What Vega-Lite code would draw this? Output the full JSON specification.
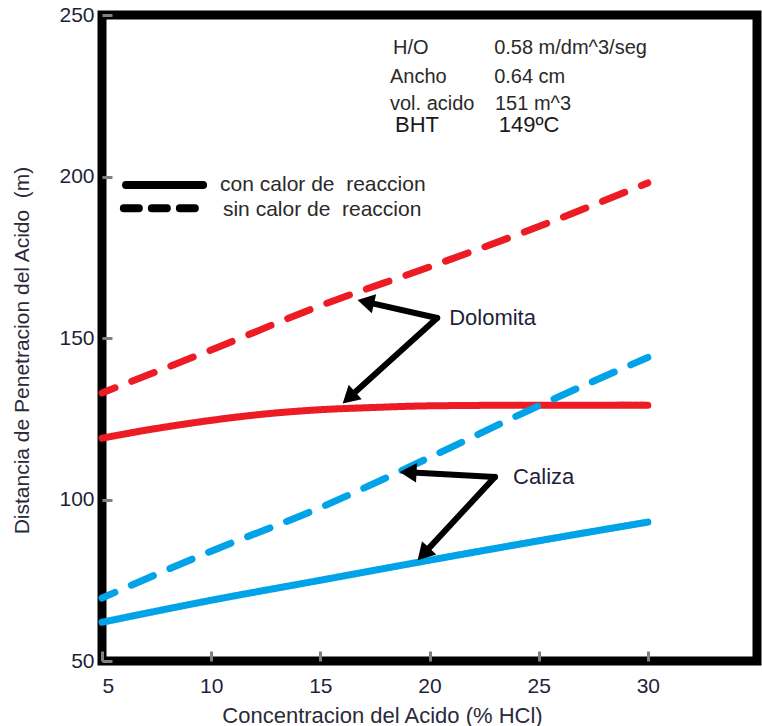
{
  "$schema": "https://vega.github.io/schema/vega-lite/v6.json",
  "width": 655,
  "height": 646,
  "autosize": {"type": "none"},
  "padding": {"left": 102, "top": 15, "right": 5, "bottom": 65},
  "background": "white",
  "config": {
    "view": {"stroke": "black", "strokeWidth": 9},
    "font": "Liberation Sans",
    "axis": {"grid": false, "domain": false, "labelFont": "Liberation Sans", "titleFont": "Liberation Sans", "labelColor": "#1f1f3a", "titleColor": "#2a2a3a", "titleFontWeight": "normal", "tickColor": "#808080", "tickWidth": 3}
  },
  "datasets": {
    "curves": [
      {"x": 5, "y": 133, "mineral": "Dolomita", "tipo": "sin"},
      {"x": 10, "y": 146.3, "mineral": "Dolomita", "tipo": "sin"},
      {"x": 15, "y": 160, "mineral": "Dolomita", "tipo": "sin"},
      {"x": 20, "y": 172, "mineral": "Dolomita", "tipo": "sin"},
      {"x": 25, "y": 184.5, "mineral": "Dolomita", "tipo": "sin"},
      {"x": 30, "y": 198, "mineral": "Dolomita", "tipo": "sin"},
      {"x": 5, "y": 119, "mineral": "Dolomita", "tipo": "con"},
      {"x": 7.5, "y": 122, "mineral": "Dolomita", "tipo": "con"},
      {"x": 10, "y": 124.5, "mineral": "Dolomita", "tipo": "con"},
      {"x": 12.5, "y": 126.5, "mineral": "Dolomita", "tipo": "con"},
      {"x": 15, "y": 127.8, "mineral": "Dolomita", "tipo": "con"},
      {"x": 17.5, "y": 128.5, "mineral": "Dolomita", "tipo": "con"},
      {"x": 20, "y": 129, "mineral": "Dolomita", "tipo": "con"},
      {"x": 25, "y": 129.2, "mineral": "Dolomita", "tipo": "con"},
      {"x": 30, "y": 129.2, "mineral": "Dolomita", "tipo": "con"},
      {"x": 5, "y": 69.5, "mineral": "Caliza", "tipo": "sin"},
      {"x": 10, "y": 84, "mineral": "Caliza", "tipo": "sin"},
      {"x": 15, "y": 97.5, "mineral": "Caliza", "tipo": "sin"},
      {"x": 20, "y": 113, "mineral": "Caliza", "tipo": "sin"},
      {"x": 25, "y": 129, "mineral": "Caliza", "tipo": "sin"},
      {"x": 30, "y": 144, "mineral": "Caliza", "tipo": "sin"},
      {"x": 5, "y": 62, "mineral": "Caliza", "tipo": "con"},
      {"x": 10, "y": 68.8, "mineral": "Caliza", "tipo": "con"},
      {"x": 15, "y": 75, "mineral": "Caliza", "tipo": "con"},
      {"x": 20, "y": 81.2, "mineral": "Caliza", "tipo": "con"},
      {"x": 25, "y": 87.2, "mineral": "Caliza", "tipo": "con"},
      {"x": 30, "y": 93, "mineral": "Caliza", "tipo": "con"}
    ],
    "legendLines": [
      {"x": 6.1, "y": 197.4, "tipo": "con"},
      {"x": 9.63, "y": 197.4, "tipo": "con"},
      {"x": 6.0, "y": 190.2, "tipo": "sin"},
      {"x": 9.63, "y": 190.2, "tipo": "sin"}
    ],
    "legendText": [
      {"x": 10.41, "y": 197.4, "label": "con calor de \u00a0reaccion"},
      {"x": 10.54, "y": 189.6, "label": "sin calor de \u00a0reaccion"}
    ],
    "arrows": [
      {"x": 20.35, "y": 156.2, "seg": "a1"},
      {"x": 17.08, "y": 161.2, "seg": "a1"},
      {"x": 20.35, "y": 156.2, "seg": "a2"},
      {"x": 16.31, "y": 131.5, "seg": "a2"},
      {"x": 23.0, "y": 107.0, "seg": "a3"},
      {"x": 19.02, "y": 108.4, "seg": "a3"},
      {"x": 23.0, "y": 107.0, "seg": "a4"},
      {"x": 19.72, "y": 83.1, "seg": "a4"}
    ],
    "heads": [
      {"x": 17.08, "y": 161.2, "id": "a1"},
      {"x": 16.31, "y": 131.5, "id": "a2"},
      {"x": 19.02, "y": 108.4, "id": "a3"},
      {"x": 19.72, "y": 83.1, "id": "a4"}
    ],
    "notes": [
      {"x": 18.33, "y": 239.8, "label": "H/O"},
      {"x": 22.96, "y": 239.8, "label": "0.58 m/dm^3/seg"},
      {"x": 18.19, "y": 230.8, "label": "Ancho"},
      {"x": 22.96, "y": 230.8, "label": "0.64 cm"},
      {"x": 18.19, "y": 222.4, "label": "vol. acido"},
      {"x": 23.0, "y": 222.4, "label": "151 m^3"}
    ],
    "notesBig": [
      {"x": 18.42, "y": 216.0, "label": "BHT"},
      {"x": 23.17, "y": 216.0, "label": "149ºC"}
    ],
    "labels": [
      {"x": 20.9, "y": 156.2, "label": "Dolomita"},
      {"x": 23.83, "y": 107.0, "label": "Caliza"}
    ]
  },
  "encoding": {
    "x": {
      "field": "x", "type": "quantitative",
      "scale": {"domain": [5, 35], "nice": false, "zero": false},
      "axis": {"values": [5, 10, 15, 20, 25, 30], "title": "Concentracion del Acido (% HCl)", "labelFontSize": 21, "titleFontSize": 22, "tickSize": -10, "labelPadding": 24, "titleX": 280, "titleY": 54, "titleBaseline": "middle", "titleAnchor": null, "titleAlign": "center"}
    },
    "y": {
      "field": "y", "type": "quantitative",
      "scale": {"domain": [50, 250], "nice": false, "zero": false},
      "axis": {"values": [50, 100, 150, 200, 250], "title": "Distancia de Penetracion del Acido \u00a0(m)", "labelFontSize": 21, "titleFontSize": 21, "tickSize": -10, "labelPadding": 18, "titleX": -80, "titleY": 335, "titleAngle": 270, "titleBaseline": "middle", "titleAlign": "center", "titleAnchor": null}
    }
  },
  "layer": [
    {
      "data": {"name": "curves"},
      "mark": {"type": "line", "strokeWidth": 7, "strokeCap": "round", "interpolate": "monotone", "strokeDashOffset": 10},
      "encoding": {
        "color": {"field": "mineral", "type": "nominal", "scale": {"domain": ["Dolomita", "Caliza"], "range": ["#ED1C24", "#00A2E8"]}, "legend": null},
        "strokeDash": {"field": "tipo", "type": "nominal", "scale": {"domain": ["con", "sin"], "range": [[1, 0], [24, 18]]}, "legend": null}
      }
    },
    {
      "data": {"name": "legendLines"},
      "transform": [{"filter": "datum.tipo === 'con'"}],
      "mark": {"type": "line", "strokeWidth": 8, "strokeCap": "round", "color": "black"},
      "encoding": {}
    },
    {
      "data": {"name": "legendLines"},
      "transform": [{"filter": "datum.tipo === 'sin'"}],
      "mark": {"type": "line", "strokeWidth": 8, "strokeCap": "round", "color": "black", "strokeDash": [15, 13]},
      "encoding": {}
    },
    {
      "data": {"name": "legendText"},
      "mark": {"type": "text", "align": "left", "baseline": "middle", "fontSize": 21, "color": "#2a2a2a"},
      "encoding": {"text": {"field": "label"}}
    },
    {
      "data": {"name": "arrows"},
      "mark": {"type": "line", "strokeWidth": 6, "color": "black", "strokeCap": "round"},
      "encoding": {"detail": {"field": "seg"}}
    },
    {
      "data": {"name": "heads"},
      "transform": [{"filter": "datum.id === 'a1'"}],
      "mark": {"type": "point", "shape": "triangle-up", "filled": true, "color": "black", "opacity": 1, "size": 380, "angle": 283},
      "encoding": {}
    },
    {
      "data": {"name": "heads"},
      "transform": [{"filter": "datum.id === 'a2'"}],
      "mark": {"type": "point", "shape": "triangle-up", "filled": true, "color": "black", "opacity": 1, "size": 380, "angle": 228},
      "encoding": {}
    },
    {
      "data": {"name": "heads"},
      "transform": [{"filter": "datum.id === 'a3'"}],
      "mark": {"type": "point", "shape": "triangle-up", "filled": true, "color": "black", "opacity": 1, "size": 380, "angle": 273},
      "encoding": {}
    },
    {
      "data": {"name": "heads"},
      "transform": [{"filter": "datum.id === 'a4'"}],
      "mark": {"type": "point", "shape": "triangle-up", "filled": true, "color": "black", "opacity": 1, "size": 380, "angle": 223},
      "encoding": {}
    },
    {
      "data": {"name": "notes"},
      "mark": {"type": "text", "align": "left", "baseline": "middle", "fontSize": 20, "color": "#2a2a2a"},
      "encoding": {"text": {"field": "label"}}
    },
    {
      "data": {"name": "notesBig"},
      "mark": {"type": "text", "align": "left", "baseline": "middle", "fontSize": 22, "color": "#1a1a1a"},
      "encoding": {"text": {"field": "label"}}
    },
    {
      "data": {"name": "labels"},
      "mark": {"type": "text", "align": "left", "baseline": "middle", "fontSize": 22, "color": "#1f1f3a"},
      "encoding": {"text": {"field": "label"}}
    }
  ]
}
